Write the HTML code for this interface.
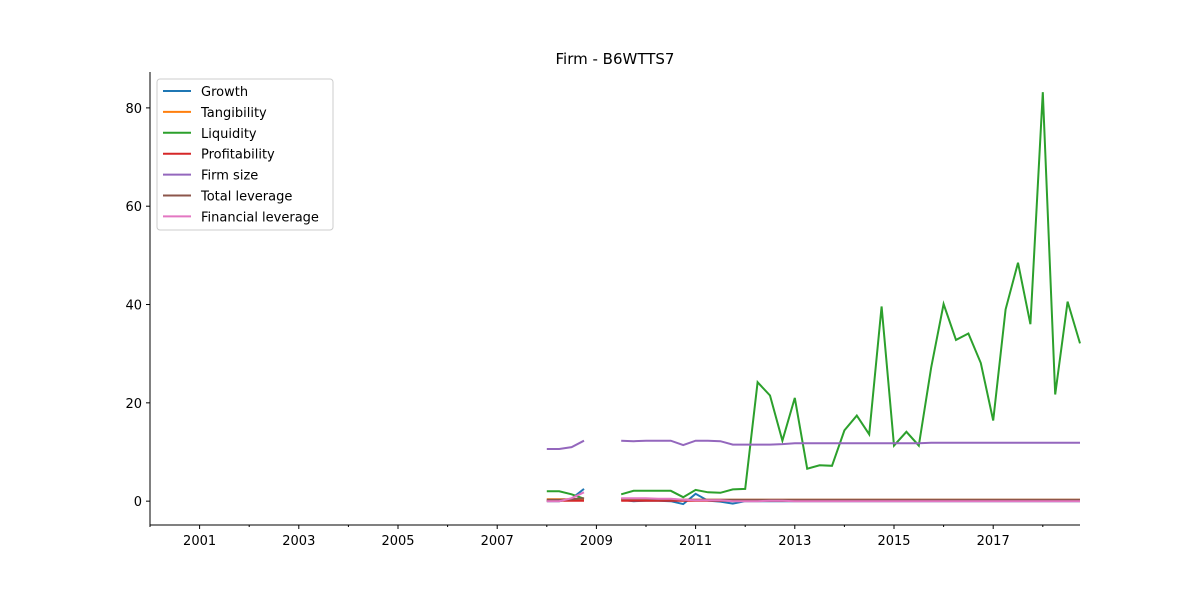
<!DOCTYPE html>
<html><head><meta charset="utf-8"><style>
body{margin:0;background:#fff;font-family:"Liberation Sans","DejaVu Sans",sans-serif}
svg text{font-family:"DejaVu Sans","Liberation Sans",sans-serif;font-size:13px}
</style></head><body>
<svg id="c" width="1200" height="600"></svg>
<script>
const startYear=2008.0, gapStart=2009.5;
const seriesNames=["Growth","Tangibility","Liquidity","Profitability","Firm size","Total leverage","Financial leverage"];
const colors=["#1f77b4","#ff7f0e","#2ca02c","#d62728","#9467bd","#8c564b","#e377c2"];
const growthA=[0,0,0.5,2.5];
const growthB=[0.3,0,0.1,0.1,0,-0.6,1.5,0.1,-0.1,-0.5,0,0,0,0,0,0,0,0,0,0,0,0,0,0,0,0,0,0,0,0,0,0,0,0,0,0,0,0];
const tangA=[0.4,0.4,0.4,0.4];
const tangB=[0.4,0.4,0.4,0.4,0.4,0.3,0.3,0.3,0.3,0.3,0.3,0.3,0.3,0.3,0.3,0.3,0.3,0.3,0.3,0.3,0.3,0.3,0.3,0.3,0.3,0.3,0.3,0.3,0.3,0.3,0.3,0.3,0.3,0.3,0.3,0.3,0.3,0.3];
const liqA=[2.0,2.0,1.4,0.5];
const liqB=[1.4,2.1,2.1,2.1,2.1,0.8,2.3,1.8,1.7,2.4,2.5,24.2,21.5,12.3,21.0,6.6,7.3,7.2,14.4,17.4,13.6,39.6,11.3,14.1,11.3,27.2,40.1,32.8,34.1,28.1,16.4,39.0,48.5,36.0,83.2,21.7,40.6,32.1];
const profA=[0.1,0.1,0.1,0.1];
const profB=[0.1,0.1,0.1,0.1,0.1,0.1,0.1,0.1,0.1,0.1,0.1,0.1,0.1,0.1,0.1,0.1,0.1,0.1,0.1,0.1,0.1,0.1,0.1,0.1,0.1,0.1,0.1,0.1,0.1,0.1,0.1,0.1,0.1,0.1,0.1,0.1,0.1,0.1];
const sizeA=[10.6,10.6,11.0,12.3];
const sizeB=[12.3,12.2,12.3,12.3,12.3,11.4,12.3,12.3,12.2,11.5,11.5,11.5,11.5,11.6,11.8,11.8,11.8,11.8,11.8,11.8,11.8,11.8,11.8,11.8,11.8,11.9,11.9,11.9,11.9,11.9,11.9,11.9,11.9,11.9,11.9,11.9,11.9,11.9];
const totA=[0.3,0.3,0.4,0.6];
const totB=[0.5,0.5,0.5,0.4,0.4,0.3,0.3,0.3,0.3,0.3,0.3,0.3,0.3,0.3,0.3,0.3,0.3,0.3,0.3,0.3,0.3,0.3,0.3,0.3,0.3,0.3,0.3,0.3,0.3,0.3,0.3,0.3,0.3,0.3,0.3,0.3,0.3,0.3];
const finA=[0,0,0.6,1.8];
const finB=[0.6,0.6,0.6,0.5,0.5,0.3,0.2,0.2,0.2,0,0,0,0.1,0.1,0,0,0,0,0,0,0,0,0,0,0,0,0,0,0,0,0,0,0,0,0,0,0,0];
const xTicks=[2001,2003,2005,2007,2009,2011,2013,2015,2017];
const yTicks=[0,20,40,60,80];
const segA=[growthA,tangA,liqA,profA,sizeA,totA,finA];
const segB=[growthB,tangB,liqB,profB,sizeB,totB,finB];

const L=150,R=1080,T=72,B=525;
const xMin=2000,xMax=2018.75,yMin=-4.85,yMax=87.3;
const X=v=>L+(v-xMin)/(xMax-xMin)*(R-L);
const Y=v=>B-(v-yMin)/(yMax-yMin)*(B-T);
const svg=document.getElementById('c');
const NS='http://www.w3.org/2000/svg';
function mk(t,a){const e=document.createElementNS(NS,t);for(const k in a)e.setAttribute(k,a[k]);svg.appendChild(e);return e;}

let t=mk('text',{x:615,y:64,'text-anchor':'middle'});t.textContent='Firm - B6WTTS7';t.style.fontSize='15px';



svg.appendChild(document.createComment('plot'));
let g=document.createElementNS(NS,'g');svg.appendChild(g);


[segA,segB].forEach((segs,si)=>{
  const s0=si===0?startYear:gapStart;
  segs.forEach((arr,k)=>{
    const pts=arr.map((v,i)=>X(s0+i*0.25).toFixed(1)+','+Y(v).toFixed(1)).join(' ');
    const p=mk('polyline',{points:pts,fill:'none',stroke:colors[k],'stroke-width':2});
    
    
  });
});

let ax=mk('line',{x1:L,y1:T,x2:L,y2:B,stroke:'#000','stroke-width':1});


let axx=mk('line',{x1:L,y1:B,x2:R,y2:B,stroke:'#000','stroke-width':1});



yTicks.forEach(v=>{
  mk('line',{x1:L-4,y1:Y(v),x2:L,y2:Y(v),stroke:'#000'});
  const tx=mk('text',{x:L-8,y:Y(v)+5,'text-anchor':'end'});tx.textContent=v;
  
  
});
for(let yr=2000;yr<=2018;yr++){
  const major=xTicks.includes(yr);
  mk('line',{x1:X(yr),y1:B,x2:X(yr),y2:B+(major?4:2),stroke:'#000'});
}
xTicks.forEach(v=>{
  const tx=mk('text',{x:X(v),y:B+20,'text-anchor':'middle'});tx.textContent=v;
  
  
});

let lg=mk('rect',{x:157,y:79,width:176,height:151,rx:3,fill:'#fff',stroke:'#ccc','fill-opacity':0.8});


seriesNames.forEach((n,k)=>{
  const y=91+k*20.9;
  mk('line',{x1:163,y1:y,x2:191,y2:y,stroke:colors[k],'stroke-width':2});
  const tx=mk('text',{x:201,y:y+5});tx.textContent=n;
  
  
});
</script>
</body></html>
